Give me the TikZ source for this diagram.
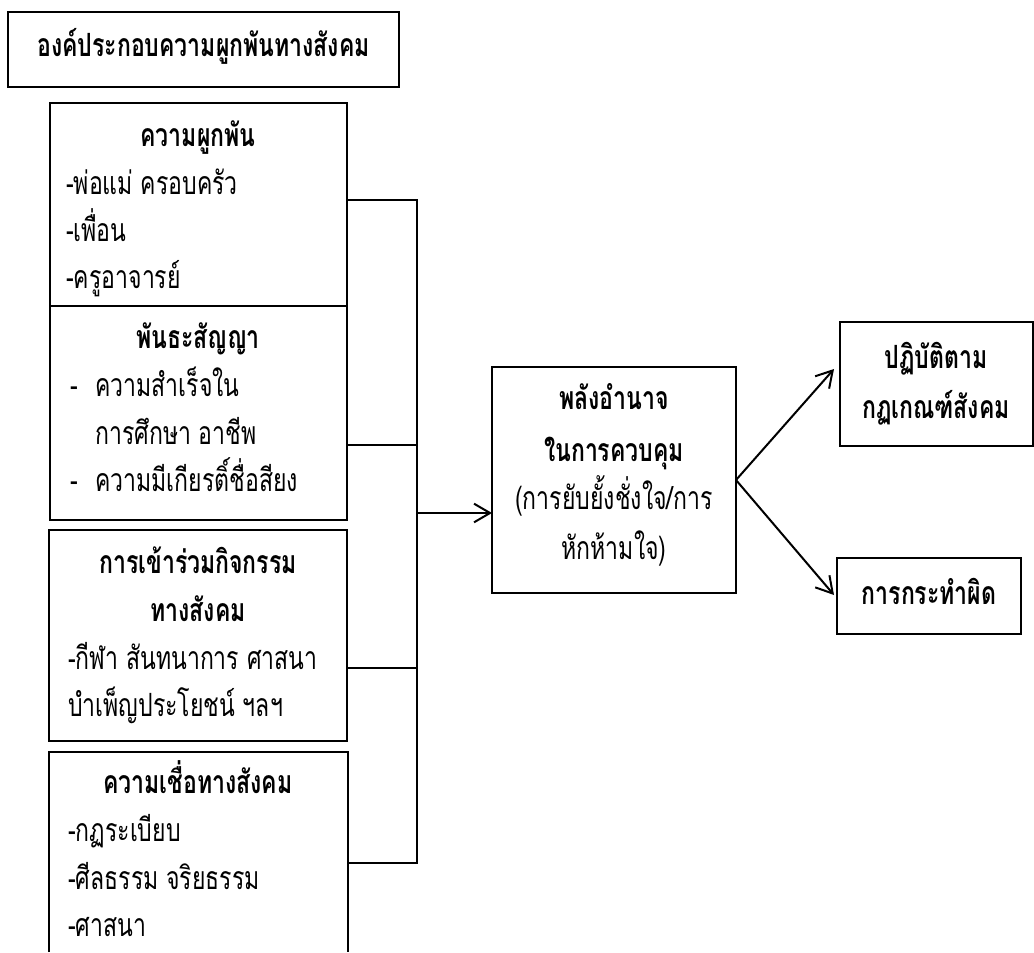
\documentclass[tikz,border=0pt]{standalone}
\usepackage{fontspec}
\newfontfamily\thai[Script=Thai,FakeStretch=0.72]{Loma}
\usetikzlibrary{arrows.meta}
\begin{document}
\begin{tikzpicture}[x=0.75pt,y=-0.75pt,
  box/.style={draw,line width=1.5pt,fill=white,inner sep=0pt,outer sep=0pt,anchor=north west},
  hd/.style={font=\thai\bfseries\fontsize{24}{28}\selectfont,anchor=mid,inner sep=0pt,yshift=-3pt},
  tx/.style={font=\thai\fontsize{24}{28}\selectfont,anchor=mid west,inner sep=0pt,yshift=-3pt},
  tc/.style={font=\thai\fontsize{24}{28}\selectfont,anchor=mid,inner sep=0pt,yshift=-3pt},
  ln/.style={line width=1.1pt},
  ar/.style={line width=1.5pt,-{Straight Barb[length=12pt,width=14pt,line width=1.5pt]}}]
\useasboundingbox (0,0) rectangle (1034,952);
% boxes
\node[box,minimum width=293.25pt,minimum height=56.25pt] (title) at (8,12) {};
\node[box,minimum width=222.75pt,minimum height=159pt] (b1) at (50,103) {};
\node[box,minimum width=222.75pt,minimum height=160.5pt] (b2) at (50,306) {};
\node[box,minimum width=223.5pt,minimum height=158.25pt] (b3) at (49,530) {};
\node[inner sep=0pt,outer sep=0pt,anchor=north west,minimum width=224.25pt,minimum height=150pt] (b4) at (49,752) {};
\draw[line width=1.5pt] (b4.south west) -- (b4.north west) -- (b4.north east) -- (b4.south east);
\node[box,minimum width=183pt,minimum height=169.5pt] (mid) at (492,367) {};
\node[box,minimum width=144.75pt,minimum height=93pt] (tr) at (840,322) {};
\node[box,minimum width=138pt,minimum height=57pt] (br) at (837,558) {};
% texts
\node[hd] (t0) at (title.center) {องค์ประกอบความผูกพันทางสังคม};
\node[hd] (h1) at (198,140) {ความผูกพัน};
\node[tx] (l11) at (66,188) {-พ่อแม่ ครอบครัว};
\node[tx] (l12) at (66,235) {-เพื่อน};
\node[tx] (l13) at (66,282) {-ครูอาจารย์};
\node[hd] (h2) at (198,342) {พันธะสัญญา};
\node[tx] (d21) at (70,390) {-};
\node[tx] (l21) at (95,390) {ความสำเร็จใน};
\node[tx] (l22) at (95,438) {การศึกษา อาชีพ};
\node[tx] (d23) at (70,485) {-};
\node[tx] (l23) at (95,485) {ความมีเกียรติ์ชื่อสียง};
\node[hd] (h3a) at (198,567) {การเข้าร่วมกิจกรรม};
\node[hd] (h3b) at (198,615) {ทางสังคม};
\node[tx] (l31) at (68,663) {-กีฬา สันทนาการ ศาสนา};
\node[tx] (l32) at (68,710) {บำเพ็ญประโยชน์ ฯลฯ};
\node[hd] (h4) at (198,787) {ความเชื่อทางสังคม};
\node[tx] (l41) at (68,835) {-กฏระเบียบ};
\node[tx] (l42) at (68,883) {-ศีลธรรม จริยธรรม};
\node[tx] (l43) at (68,930) {-ศาสนา};
\node[hd] (m1) at (614,403) {พลังอำนาจ};
\node[hd] (m2) at (614,455) {ในการควบคุม};
\node[tc] (m3) at (614,503) {(การยับยั้งชั่งใจ/การ};
\node[tc] (m4) at (614,553) {หักห้ามใจ)};
\node[hd] (r1) at (936,362) {ปฏิบัติตาม};
\node[hd] (r2) at (936,412) {กฏเกณฑ์สังคม};
\node[hd] (r3) at (929,598) {การกระทำผิด};
% connectors
\coordinate (j1) at (417,200);
\coordinate (j2) at (417,445);
\coordinate (j3) at (417,668);
\coordinate (j4) at (417,863);
\coordinate (ja) at (417,513);
\coordinate (p1) at (834,369);
\coordinate (p2) at (834,595);
\draw[ln] (b1.east |- j1) -- (j1) -- (j4) -- (b4.east |- j4);
\draw[ln] (b2.east |- j2) -- (j2);
\draw[ln] (b3.east |- j3) -- (j3);
\draw[ar] (ja) -- (mid.west |- ja);
\draw[ar] (mid.east) -- (p1);
\draw[ar] (mid.east) -- (p2);
\end{tikzpicture}
\end{document}
